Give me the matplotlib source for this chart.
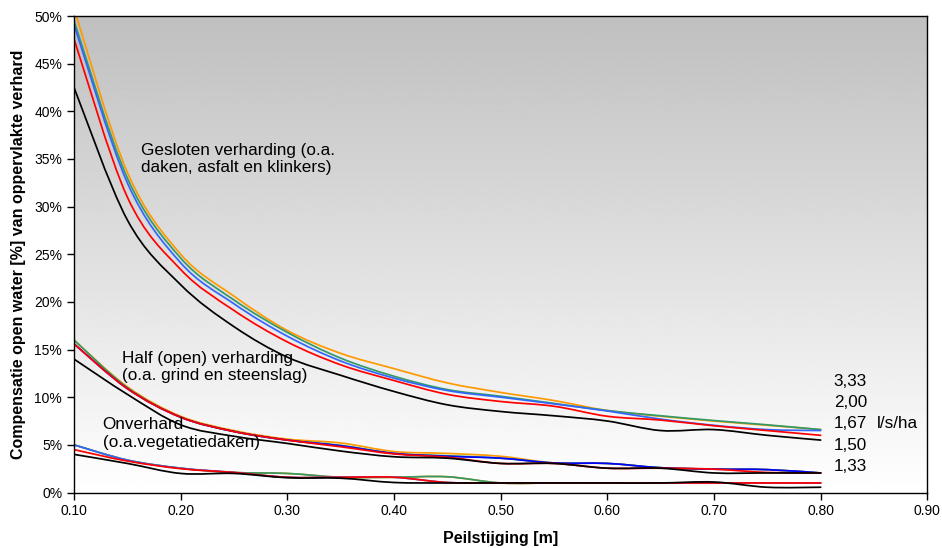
import numpy as np
import matplotlib
matplotlib.use("Agg")
import matplotlib.pyplot as plt
from matplotlib.path import Path
from matplotlib.patches import PathPatch
from matplotlib.ticker import FuncFormatter, MultipleLocator

plt.rcParams['font.family'] = ['Liberation Sans', 'DejaVu Sans']

# x values: Peilstijging [m]
peil = [0.10, 0.15, 0.20, 0.25, 0.30, 0.35, 0.40, 0.45, 0.50, 0.55, 0.60, 0.65, 0.70, 0.75, 0.80]

# Gesloten verharding (o.a. daken, asfalt en klinkers) [%]
gesloten_333 = [50.8, 33.6, 25.0, 20.6, 17.0, 14.6, 13.0, 11.5, 10.5, 9.65, 8.6, 8.0, 7.5, 7.05, 6.6]
gesloten_200 = [49.5, 33.0, 24.6, 20.2, 16.8, 14.1, 12.2, 10.8, 10.1, 9.35, 8.6, 8.05, 7.55, 7.1, 6.6]
gesloten_167 = [49.1, 32.5, 24.1, 19.8, 16.4, 13.8, 12.0, 10.7, 10.0, 9.3, 8.55, 7.7, 7.05, 6.6, 6.5]
gesloten_150 = [47.6, 31.0, 23.4, 19.1, 15.8, 13.4, 11.75, 10.3, 9.55, 9.05, 8.0, 7.6, 7.0, 6.5, 6.0]
gesloten_133 = [42.5, 28.6, 21.8, 17.4, 14.2, 12.3, 10.6, 9.2, 8.5, 8.05, 7.5, 6.5, 6.6, 6.0, 5.5]

# Half (open) verharding (o.a. grind en steenslag) [%]
half_333 = [16.0, 11.1, 8.0, 6.5, 5.6, 5.2, 4.3, 4.1, 3.8, 3.1, 3.05, 2.6, 2.45, 2.4, 2.05]
half_200 = [16.0, 11.0, 7.9, 6.4, 5.5, 4.95, 4.1, 3.85, 3.6, 3.1, 3.05, 2.6, 2.45, 2.4, 2.05]
half_167 = [15.6, 10.9, 7.9, 6.4, 5.5, 4.9, 4.1, 3.8, 3.6, 3.1, 3.05, 2.6, 2.45, 2.4, 2.05]
half_150 = [15.6, 10.9, 7.9, 6.4, 5.5, 4.8, 4.05, 3.7, 3.05, 3.05, 2.55, 2.55, 2.45, 2.1, 2.05]
half_133 = [14.0, 10.3, 7.1, 5.9, 5.15, 4.35, 3.75, 3.6, 3.05, 3.05, 2.55, 2.55, 2.05, 2.05, 2.05]

# Onverhard (o.a. vegetatiedaken) [%]
onverhard_333 = [5.0, 3.4, 2.55, 2.1, 2.0, 1.6, 1.6, 1.65, 1.0, 1.0, 1.0, 1.0, 1.0, 1.0, 1.0]
onverhard_200 = [5.0, 3.4, 2.55, 2.1, 2.0, 1.6, 1.6, 1.65, 1.0, 1.0, 1.0, 1.0, 1.0, 1.0, 1.0]
onverhard_167 = [5.0, 3.4, 2.55, 2.1, 1.6, 1.6, 1.6, 1.05, 1.0, 1.0, 1.0, 1.0, 1.0, 1.0, 1.0]
onverhard_150 = [4.5, 3.3, 2.5, 2.1, 1.6, 1.6, 1.6, 1.05, 1.0, 1.0, 1.0, 1.0, 1.0, 1.0, 1.0]
onverhard_133 = [4.0, 3.05, 2.0, 2.0, 1.55, 1.5, 1.05, 1.0, 1.0, 1.0, 1.0, 1.0, 1.1, 0.55, 0.55]

debiet_labels = ["3,33", "2,00", "1,67", "1,50", "1,33"]
debiet_label_y = [11.63, 9.42, 7.19, 4.98, 2.71]
eenheid = "l/s/ha"

groups = [
    [gesloten_333, gesloten_200, gesloten_167, gesloten_150, gesloten_133],
    [half_333, half_200, half_167, half_150, half_133],
    [onverhard_333, onverhard_200, onverhard_167, onverhard_150, onverhard_133],
]
group_colors = [
    ["#FF9900", "#339966", "#3366FF", "#FF0000", "#000000"],
    ["#FF9900", "#339966", "#0000FF", "#FF0000", "#000000"],
    ["#FF9900", "#339966", "#3366FF", "#FF0000", "#000000"],
]


def smooth_path(xs, ys):
    pts = np.column_stack([xs, ys]).astype(float)
    n = len(pts)
    verts = [pts[0]]
    codes = [Path.MOVETO]
    for i in range(n - 1):
        p0 = pts[i - 1] if i > 0 else pts[i]
        p1 = pts[i]
        p2 = pts[i + 1]
        p3 = pts[i + 2] if i + 2 < n else pts[i + 1]
        c1 = p1 + (p2 - p0) / 6.0
        c2 = p2 - (p3 - p1) / 6.0
        verts += [c1, c2, p2]
        codes += [Path.CURVE4] * 3
    return Path(verts, codes)


fig = plt.figure(figsize=(9.42, 5.48), dpi=100)
ax = fig.add_axes([74 / 942, 1 - 492.5 / 548, (927.3 - 74) / 942, (492.5 - 16) / 548])

ax.set_xlim(0.1, 0.9)
ax.set_ylim(0, 50)

# background gradient
grad = np.linspace(1.0, 0.75, 256).reshape(-1, 1)
ax.imshow(grad, extent=[0.1, 0.9, 0, 50], origin='lower', aspect='auto',
          cmap='gray', vmin=0, vmax=1, zorder=0, interpolation='bilinear')

for series, colors in zip(groups, group_colors):
    for ys, c in zip(series, colors):
        patch = PathPatch(smooth_path(peil, ys), facecolor='none', edgecolor=c,
                          lw=1.25, zorder=2, capstyle='round', joinstyle='round')
        ax.add_patch(patch)

ax.xaxis.set_major_locator(MultipleLocator(0.1))
ax.yaxis.set_major_locator(MultipleLocator(5))
ax.xaxis.set_major_formatter(FuncFormatter(lambda v, p: f"{v:.2f}"))
ax.yaxis.set_major_formatter(FuncFormatter(lambda v, p: f"{v:.0f}%"))
ax.tick_params(direction='out', length=5, width=1, labelsize=10, colors='black')
for s in ax.spines.values():
    s.set_color('black')
    s.set_linewidth(1.0)

ax.set_xlabel("Peilstijging [m]", fontsize=11.5, fontweight='bold', labelpad=9)
ax.set_ylabel("Compensatie open water [%] van oppervlakte verhard", fontsize=11.5,
              fontweight='bold', labelpad=6)

tfs = 12.3
ax.text(0.1625, 35.0, "Gesloten verharding (o.a.\ndaken, asfalt en klinkers)",
        fontsize=tfs, ha='left', va='center', zorder=3, linespacing=1.2)
ax.text(0.1447, 13.17, "Half (open) verharding\n(o.a. grind en steenslag)",
        fontsize=tfs, ha='left', va='center', zorder=3, linespacing=1.2)
ax.text(0.1269, 6.14, "Onverhard\n(o.a.vegetatiedaken)",
        fontsize=tfs, ha='left', va='center', zorder=3, linespacing=1.25)

for lab, yv in zip(debiet_labels, debiet_label_y):
    ax.text(0.8123, yv, lab, fontsize=tfs, ha='left', va='center', zorder=3)
ax.text(0.8526, debiet_label_y[2], eenheid, fontsize=tfs, ha='left', va='center', zorder=3)

fig.savefig("out.png", dpi=100)
